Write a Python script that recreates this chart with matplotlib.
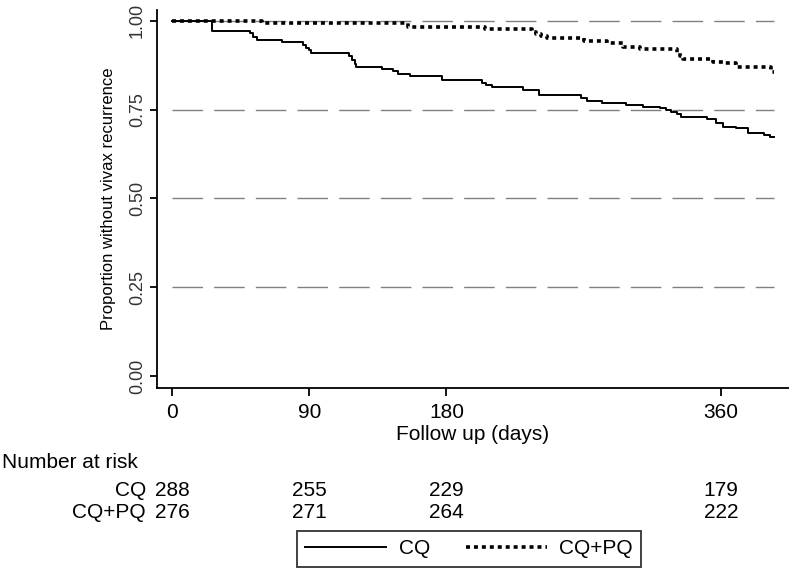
import matplotlib
matplotlib.use('Agg')
from matplotlib import pyplot as plt
from matplotlib.transforms import blended_transform_factory

plt.rcParams['font.family'] = ['Liberation Sans', 'DejaVu Sans']
big = 15

# Kaplan-Meier estimates
cq_days = [0, 26, 51, 53, 56, 72, 86, 88, 90, 91, 116, 118, 120, 121, 138, 145, 148, 156, 177, 203,
           206, 210, 230, 241, 268, 272, 282, 298, 309, 320, 324, 327, 331, 334, 351, 357, 361, 370, 378, 388,
           392, 395]
cq_surv = [1.0, 0.972, 0.966, 0.956, 0.946, 0.941, 0.932, 0.925, 0.917, 0.910, 0.900, 0.890, 0.878, 0.870,
           0.865, 0.858, 0.851, 0.845, 0.834, 0.826, 0.820, 0.814, 0.806, 0.792, 0.782, 0.775, 0.769, 0.763,
           0.758, 0.755, 0.750, 0.744, 0.737, 0.730, 0.724, 0.713, 0.701, 0.699, 0.685, 0.679, 0.673, 0.673]

cqpq_days = [0, 59, 155, 205, 236, 239, 242, 246, 270, 285, 296, 307, 331, 333, 335, 355, 361, 370, 393, 395]
cqpq_surv = [1.0, 0.994, 0.983, 0.977, 0.970, 0.963, 0.957, 0.952, 0.944, 0.938, 0.927, 0.921, 0.910,
             0.900, 0.893, 0.885, 0.882, 0.870, 0.856, 0.856]

xticks = [0, 90, 180, 360]
yticks = [0.0, 0.25, 0.5, 0.75, 1.0]
risk_groups = ['CQ', 'CQ+PQ']
risk_cq = [288, 255, 229, 179]
risk_cqpq = [276, 271, 264, 222]

fig = plt.figure(figsize=(7.89, 5.72), dpi=100)
ax = fig.add_axes([0.199, 0.3217, 0.801, 0.661])

for yv in yticks[1:]:
    ax.hlines(yv, 0, 395, colors='#808080', linewidth=1, linestyles=(0, (22, 8)))

ax.plot(cq_days, cq_surv, drawstyle='steps-post', color='black', linewidth=1.4, label='CQ')
ax.plot(cqpq_days, cqpq_surv, drawstyle='steps-post', color='black', linewidth=2.6,
        linestyle=(0, (1.1, 1.1)), label='CQ+PQ')

ax.set_xlim(-9.8, 404.6)
ax.set_ylim(-0.034, 1.031)
ax.spines['top'].set_visible(False)
ax.spines['right'].set_visible(False)
ax.spines['left'].set_linewidth(1.3)
ax.spines['bottom'].set_linewidth(1.3)
ax.set_xticks(xticks)
ax.set_yticks(yticks)
ax.set_yticklabels(['%.2f' % v for v in yticks], rotation=90, va='center')
ax.tick_params(axis='x', length=6, width=1.3, labelsize=big, pad=5)
ax.tick_params(axis='y', length=5, width=1.3, labelsize=13, pad=3, labelcolor='#333333')
ax.set_xlabel('Follow up (days)', fontsize=big, labelpad=2)
ax.set_ylabel('Proportion without vivax recurrence', fontsize=12, labelpad=9)

# number at risk table
tr = blended_transform_factory(ax.transData, fig.transFigure)
fig.text(0.002, 1 - 463 / 572, 'Number at risk', fontsize=big, va='center', ha='left')
for row, (grp, vals) in enumerate(zip(risk_groups, [risk_cq, risk_cqpq])):
    yy = 1 - (490 + 22 * row) / 572
    fig.text(146 / 789, yy, grp, fontsize=big, va='center', ha='right')
    for d, v in zip(xticks, vals):
        ax.text(d, yy, str(v), fontsize=big, va='center', ha='center', transform=tr, clip_on=False)

leg = fig.legend(loc='center', bbox_to_anchor=(469 / 789, 1 - 549 / 572), ncol=2, fontsize=big,
                 frameon=True, fancybox=False, edgecolor='black', handlelength=3.9,
                 handletextpad=0.6, columnspacing=1.7, borderpad=0.4)
leg.get_frame().set_linewidth(1.3)

fig.savefig('out.png', dpi=100)
